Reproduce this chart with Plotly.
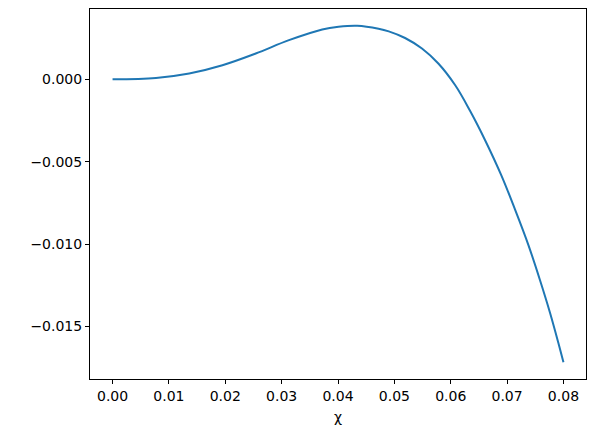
import plotly.graph_objects as go

# values
chi = [0.0, 0.0077, 0.0136, 0.0195, 0.0254, 0.0313, 0.0372, 0.0401, 0.0434,
       0.0472, 0.0490, 0.0519, 0.0549, 0.0578, 0.0608, 0.0634, 0.0661,
       0.0690, 0.0714, 0.0738, 0.0758, 0.0776, 0.0791, 0.0800]
val = [0.0, 0.00008, 0.00035, 0.00085, 0.00156, 0.00237, 0.00302, 0.00318, 0.00324,
       0.00306, 0.00290, 0.00250, 0.00186, 0.00095, -0.00037, -0.00190, -0.00370,
       -0.00585, -0.00790, -0.01008, -0.01215, -0.01415, -0.01600, -0.01717]

x_ticks = [0.0, 0.01, 0.02, 0.03, 0.04, 0.05, 0.06, 0.07, 0.08]
y_ticks = [0.0, -0.005, -0.010, -0.015]

fig = go.Figure()
fig.add_trace(go.Scatter(
    x=chi, y=val, mode='lines',
    line=dict(color='#1f77b4', width=2, shape='spline', smoothing=1.0),
    showlegend=False,
))

axis_style = dict(
    showgrid=False, zeroline=False,
    showline=True, linecolor='black', linewidth=1, mirror=True,
    ticks='outside', ticklen=4, tickcolor='black', tickwidth=1,
    tickfont=dict(family='DejaVu Sans', size=14, color='black'),
)

# page body has an 8px margin, so the figure is shrunk and shifted to match
fig.update_layout(
    width=588, height=424,
    margin=dict(l=82, r=10, t=1, b=53),
    paper_bgcolor='white', plot_bgcolor='white',
    xaxis=dict(
        range=[-0.004, 0.084],
        tickvals=x_ticks, tickformat='.2f',
        title=dict(text='χ', font=dict(family='DejaVu Sans', size=14, color='black'), standoff=9),
        **axis_style,
    ),
    yaxis=dict(
        range=[-0.01819, 0.00426],
        tickvals=y_ticks, tickformat='.3f',
        **axis_style,
    ),
)

fig.write_html("out.html")
